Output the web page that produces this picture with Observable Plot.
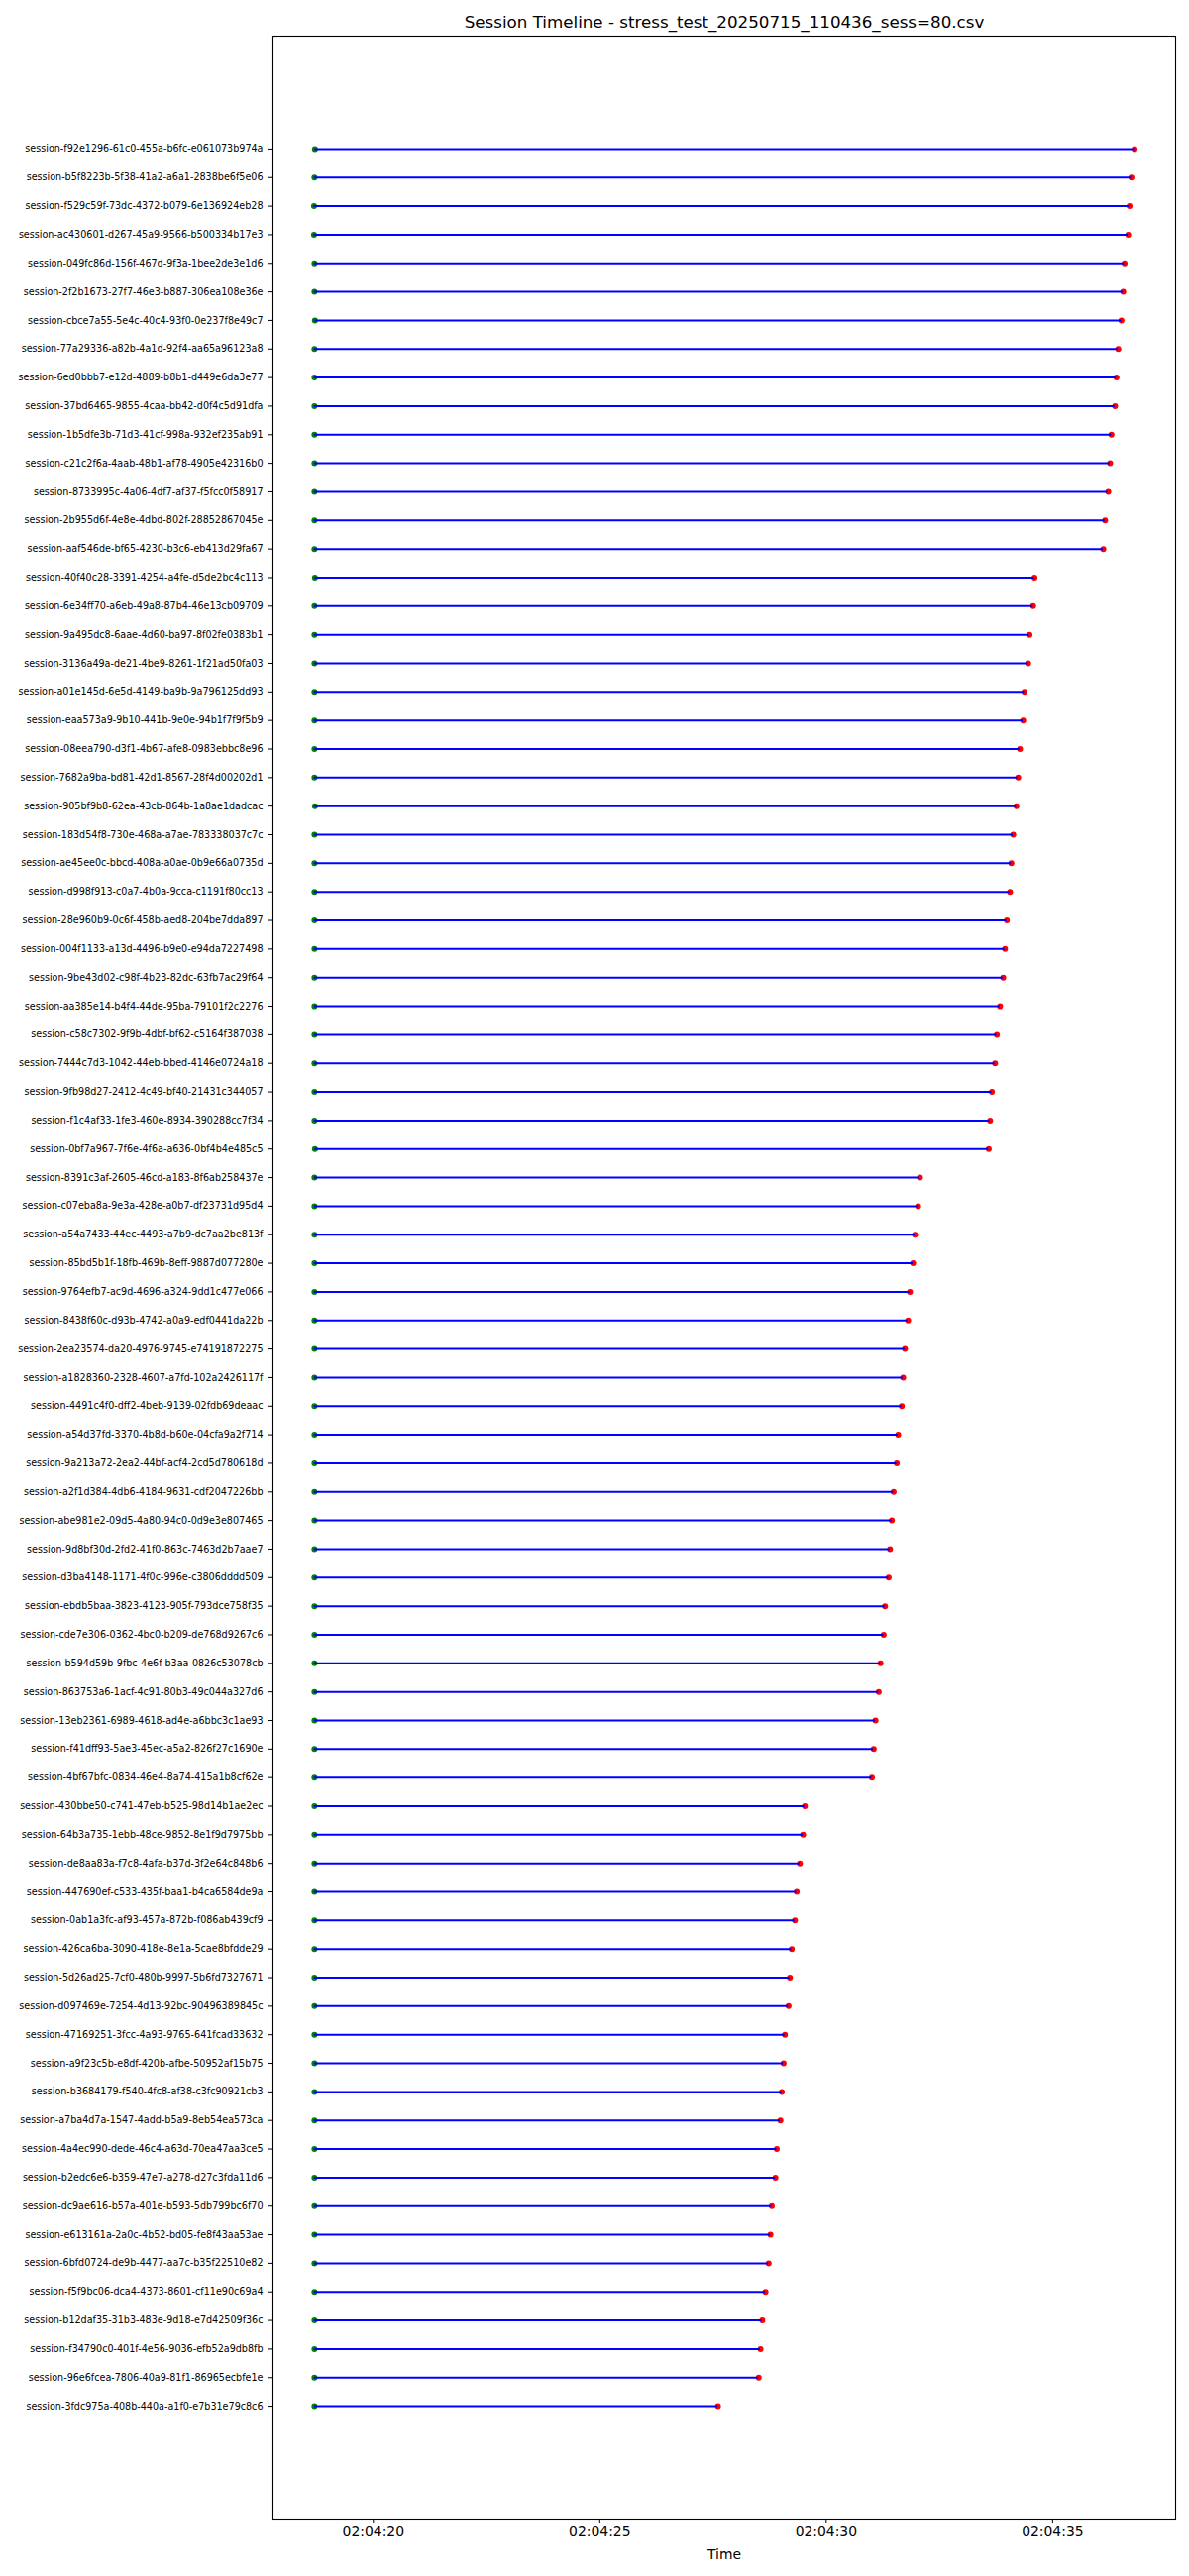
<!DOCTYPE html>
<html>
<head>
<meta charset="utf-8">
<script src="https://cdn.jsdelivr.net/npm/d3@7"></script>
<script src="https://cdn.jsdelivr.net/npm/@observablehq/plot@0.6"></script>
<style>
  html, body { margin: 0; padding: 0; background: white; }
  #chart { width: 1200px; height: 2600px; }
</style>
</head>
<body>
<div id="chart"></div>
<script>
const title = "Session Timeline - stress_test_20250715_110436_sess=80.csv";
const xLabel = "Time";

const sessions = [
  "session-f92e1296-61c0-455a-b6fc-e061073b974a",
  "session-b5f8223b-5f38-41a2-a6a1-2838be6f5e06",
  "session-f529c59f-73dc-4372-b079-6e136924eb28",
  "session-ac430601-d267-45a9-9566-b500334b17e3",
  "session-049fc86d-156f-467d-9f3a-1bee2de3e1d6",
  "session-2f2b1673-27f7-46e3-b887-306ea108e36e",
  "session-cbce7a55-5e4c-40c4-93f0-0e237f8e49c7",
  "session-77a29336-a82b-4a1d-92f4-aa65a96123a8",
  "session-6ed0bbb7-e12d-4889-b8b1-d449e6da3e77",
  "session-37bd6465-9855-4caa-bb42-d0f4c5d91dfa",
  "session-1b5dfe3b-71d3-41cf-998a-932ef235ab91",
  "session-c21c2f6a-4aab-48b1-af78-4905e42316b0",
  "session-8733995c-4a06-4df7-af37-f5fcc0f58917",
  "session-2b955d6f-4e8e-4dbd-802f-28852867045e",
  "session-aaf546de-bf65-4230-b3c6-eb413d29fa67",
  "session-40f40c28-3391-4254-a4fe-d5de2bc4c113",
  "session-6e34ff70-a6eb-49a8-87b4-46e13cb09709",
  "session-9a495dc8-6aae-4d60-ba97-8f02fe0383b1",
  "session-3136a49a-de21-4be9-8261-1f21ad50fa03",
  "session-a01e145d-6e5d-4149-ba9b-9a796125dd93",
  "session-eaa573a9-9b10-441b-9e0e-94b1f7f9f5b9",
  "session-08eea790-d3f1-4b67-afe8-0983ebbc8e96",
  "session-7682a9ba-bd81-42d1-8567-28f4d00202d1",
  "session-905bf9b8-62ea-43cb-864b-1a8ae1dadcac",
  "session-183d54f8-730e-468a-a7ae-783338037c7c",
  "session-ae45ee0c-bbcd-408a-a0ae-0b9e66a0735d",
  "session-d998f913-c0a7-4b0a-9cca-c1191f80cc13",
  "session-28e960b9-0c6f-458b-aed8-204be7dda897",
  "session-004f1133-a13d-4496-b9e0-e94da7227498",
  "session-9be43d02-c98f-4b23-82dc-63fb7ac29f64",
  "session-aa385e14-b4f4-44de-95ba-79101f2c2276",
  "session-c58c7302-9f9b-4dbf-bf62-c5164f387038",
  "session-7444c7d3-1042-44eb-bbed-4146e0724a18",
  "session-9fb98d27-2412-4c49-bf40-21431c344057",
  "session-f1c4af33-1fe3-460e-8934-390288cc7f34",
  "session-0bf7a967-7f6e-4f6a-a636-0bf4b4e485c5",
  "session-8391c3af-2605-46cd-a183-8f6ab258437e",
  "session-c07eba8a-9e3a-428e-a0b7-df23731d95d4",
  "session-a54a7433-44ec-4493-a7b9-dc7aa2be813f",
  "session-85bd5b1f-18fb-469b-8eff-9887d077280e",
  "session-9764efb7-ac9d-4696-a324-9dd1c477e066",
  "session-8438f60c-d93b-4742-a0a9-edf0441da22b",
  "session-2ea23574-da20-4976-9745-e74191872275",
  "session-a1828360-2328-4607-a7fd-102a2426117f",
  "session-4491c4f0-dff2-4beb-9139-02fdb69deaac",
  "session-a54d37fd-3370-4b8d-b60e-04cfa9a2f714",
  "session-9a213a72-2ea2-44bf-acf4-2cd5d780618d",
  "session-a2f1d384-4db6-4184-9631-cdf2047226bb",
  "session-abe981e2-09d5-4a80-94c0-0d9e3e807465",
  "session-9d8bf30d-2fd2-41f0-863c-7463d2b7aae7",
  "session-d3ba4148-1171-4f0c-996e-c3806dddd509",
  "session-ebdb5baa-3823-4123-905f-793dce758f35",
  "session-cde7e306-0362-4bc0-b209-de768d9267c6",
  "session-b594d59b-9fbc-4e6f-b3aa-0826c53078cb",
  "session-863753a6-1acf-4c91-80b3-49c044a327d6",
  "session-13eb2361-6989-4618-ad4e-a6bbc3c1ae93",
  "session-f41dff93-5ae3-45ec-a5a2-826f27c1690e",
  "session-4bf67bfc-0834-46e4-8a74-415a1b8cf62e",
  "session-430bbe50-c741-47eb-b525-98d14b1ae2ec",
  "session-64b3a735-1ebb-48ce-9852-8e1f9d7975bb",
  "session-de8aa83a-f7c8-4afa-b37d-3f2e64c848b6",
  "session-447690ef-c533-435f-baa1-b4ca6584de9a",
  "session-0ab1a3fc-af93-457a-872b-f086ab439cf9",
  "session-426ca6ba-3090-418e-8e1a-5cae8bfdde29",
  "session-5d26ad25-7cf0-480b-9997-5b6fd7327671",
  "session-d097469e-7254-4d13-92bc-90496389845c",
  "session-47169251-3fcc-4a93-9765-641fcad33632",
  "session-a9f23c5b-e8df-420b-afbe-50952af15b75",
  "session-b3684179-f540-4fc8-af38-c3fc90921cb3",
  "session-a7ba4d7a-1547-4add-b5a9-8eb54ea573ca",
  "session-4a4ec990-dede-46c4-a63d-70ea47aa3ce5",
  "session-b2edc6e6-b359-47e7-a278-d27c3fda11d6",
  "session-dc9ae616-b57a-401e-b593-5db799bc6f70",
  "session-e613161a-2a0c-4b52-bd05-fe8f43aa53ae",
  "session-6bfd0724-de9b-4477-aa7c-b35f22510e82",
  "session-f5f9bc06-dca4-4373-8601-cf11e90c69a4",
  "session-b12daf35-31b3-483e-9d18-e7d42509f36c",
  "session-f34790c0-401f-4e56-9036-efb52a9db8fb",
  "session-96e6fcea-7806-40a9-81f1-86965ecbfe1e",
  "session-3fdc975a-408b-440a-a1f0-e7b31e79c8c6"
];

// seconds after 02:04:00 (UTC)
const startSec = [
  18.71, 18.70, 18.69, 18.69, 18.70, 18.70, 18.71, 18.70, 18.70, 18.70,
  18.70, 18.70, 18.70, 18.70, 18.70, 18.71, 18.70, 18.70, 18.70, 18.70,
  18.70, 18.70, 18.70, 18.71, 18.70, 18.70, 18.70, 18.70, 18.70, 18.70,
  18.70, 18.70, 18.70, 18.70, 18.70, 18.71, 18.70, 18.70, 18.70, 18.70,
  18.70, 18.70, 18.70, 18.70, 18.70, 18.70, 18.70, 18.70, 18.70, 18.70,
  18.70, 18.70, 18.70, 18.70, 18.70, 18.70, 18.70, 18.70, 18.70, 18.70,
  18.70, 18.70, 18.70, 18.70, 18.70, 18.70, 18.70, 18.70, 18.70, 18.70,
  18.70, 18.70, 18.70, 18.70, 18.70, 18.70, 18.70, 18.70, 18.70, 18.70
];

const endSec = [
  36.81, 36.74, 36.70, 36.67, 36.59, 36.56, 36.52, 36.45, 36.41, 36.38,
  36.30, 36.27, 36.23, 36.16, 36.12,
  34.60, 34.57, 34.49, 34.46, 34.38, 34.35, 34.28, 34.24, 34.20, 34.13,
  34.09, 34.06, 33.99, 33.95, 33.91, 33.84, 33.77, 33.73, 33.66, 33.62, 33.59,
  32.07, 32.03, 31.96, 31.92, 31.85, 31.81, 31.74, 31.70, 31.67, 31.59,
  31.56, 31.49, 31.45, 31.41, 31.38, 31.30, 31.27, 31.20, 31.16, 31.09, 31.05, 31.01,
  29.53, 29.49, 29.42, 29.35, 29.31, 29.24, 29.20, 29.17, 29.09, 29.06,
  29.02, 28.99, 28.91, 28.88, 28.80, 28.77, 28.73, 28.66, 28.59, 28.55, 28.51,
  27.61
];

const xTickLabels = ["02:04:20", "02:04:25", "02:04:30", "02:04:35"];

const base = Date.UTC(2025, 6, 15, 2, 4, 0);
const toDate = (s) => new Date(base + Math.round(s * 1000));
const parseTick = d3.utcParse("%Y-%m-%d %H:%M:%S");

const data = sessions.map((session, i) => ({
  session,
  start: toDate(startSec[i]),
  end: toDate(endSec[i])
}));

// matplotlib-like 5% margins
const xmin = d3.min(data, d => d.start), xmax = d3.max(data, d => d.end);
const pad = (xmax - xmin) * 0.05;
const xDomain = [new Date(+xmin - pad), new Date(+xmax + pad)];
const xTicks = xTickLabels.map(t => parseTick("2025-07-15 " + t));

const chart = Plot.plot({
  width: 1200,
  height: 2600,
  marginLeft: 275,
  marginRight: 14,
  marginTop: 36,
  marginBottom: 58,
  style: { fontFamily: "DejaVu Sans", background: "white", color: "black", overflow: "visible" },
  x: { type: "utc", domain: xDomain },
  y: { type: "point", domain: sessions, padding: 3.95 },
  marks: [
    Plot.dot(data, { x: "start", y: "session", r: 3, fill: "#008000", stroke: null }),
    Plot.dot(data, { x: "end", y: "session", r: 3, fill: "#ff0000", stroke: null }),
    Plot.ruleY(data, { y: "session", x1: "start", x2: "end", stroke: "#0000ff", strokeWidth: 2 }),
    Plot.frame({ stroke: "black", strokeWidth: 1.1 }),
    Plot.axisY({ tickSize: 5, tickPadding: 5, fontSize: 9.6, label: null, stroke: "black" }),
    Plot.axisX({ ticks: xTicks, tickFormat: d3.utcFormat("%H:%M:%S"), tickSize: 5, tickPadding: 3, fontSize: 13.9, label: null }),
    Plot.text([xLabel], { frameAnchor: "bottom", dy: 40, fontSize: 13.9, fill: "black" }),
    Plot.text([title], { frameAnchor: "top", dy: -20, fontSize: 16.7, fill: "black" })
  ]
});
document.getElementById("chart").appendChild(chart);
</script>
</body>
</html>
